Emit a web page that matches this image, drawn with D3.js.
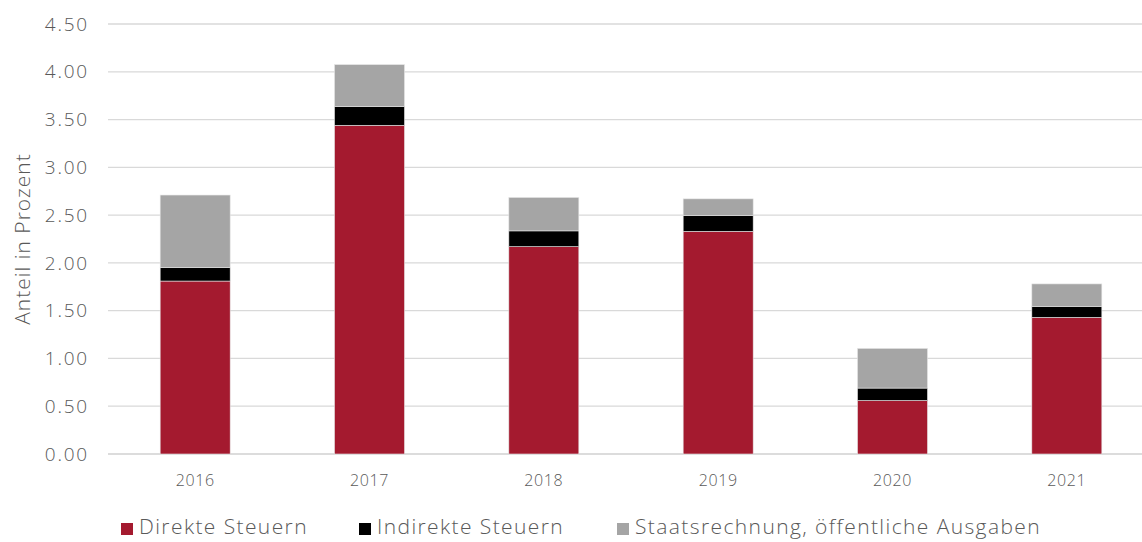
<!DOCTYPE html>
<html><head><meta charset="utf-8">
<script src="https://cdn.jsdelivr.net/npm/d3@7"></script>
<style>
body{margin:0;background:#fff;}
text{font-family:"Open Sans",sans-serif;fill:#595959;font-weight:300;}
</style></head>
<body><svg id="c" width="1142" height="542"></svg>
<script>
const years = ["2016","2017","2018","2019","2020","2021"];
const direkte = [1.81, 3.44, 2.17, 2.33, 0.56, 1.43];
const indirekte = [0.14, 0.195, 0.165, 0.165, 0.13, 0.115];
const staats = [0.76, 0.44, 0.35, 0.175, 0.415, 0.235];
const seriesNames = ["Direkte Steuern","Indirekte Steuern","Staatsrechnung, öffentliche Ausgaben"];
const colors = ["#A41A2F","#000000","#A5A5A5"];
const yTicks = [0,0.5,1,1.5,2,2.5,3,3.5,4,4.5];

const svg = d3.select("#c");
const x = d3.scaleBand().domain(years).range([108,1154]);
const y = d3.scaleLinear().domain([0,4.5]).range([454,24]);

// gridlines
svg.append("g").selectAll("line").data(yTicks).join("line")
  .attr("x1",108).attr("x2",1142)
  .attr("y1",d=>y(d)).attr("y2",d=>y(d))
  .attr("stroke",d=>d===0?"#d0d0d0":"#d9d9d9").attr("stroke-width",d=>d===0?1.5:1.3);

// y labels
svg.append("g").selectAll("text").data(yTicks).join("text")
  .attr("x",89).attr("y",d=>y(d)).attr("dy","0.35em")
  .attr("text-anchor","end").attr("font-size",19).attr("letter-spacing",1.8).text(d=>d.toFixed(2));

// y title
svg.append("text").attr("transform","translate(30,239) rotate(-90)")
  .attr("text-anchor","middle").attr("font-size",21).attr("letter-spacing",1).text("Anteil in Prozent");

const table = years.map((yr,i)=>({year:yr, d:direkte[i], i:indirekte[i], s:staats[i]}));
const stack = d3.stack().keys(["d","i","s"])(table);
const bw = 70;
svg.append("g").selectAll("g").data(stack).join("g")
  .attr("fill",(d,k)=>colors[k])
  .selectAll("rect").data(d=>d).join("rect")
  .attr("x",d=>x(d.data.year)+x.bandwidth()/2-bw/2)
  .attr("width",bw)
  .attr("y",d=>y(d[1]))
  .attr("height",d=>y(d[0])-y(d[1]))
  .attr("stroke","#e6e6e6").attr("stroke-width",0.6);

// x labels
svg.append("g").selectAll("text").data(years).join("text")
  .attr("x",d=>x(d)+x.bandwidth()/2).attr("y",480).attr("dy","0.35em")
  .attr("text-anchor","middle").attr("font-size",16).attr("letter-spacing",0.6).text(d=>d);

// legend
const legX = [121,359,617];
const lg = svg.append("g").selectAll("g").data(seriesNames).join("g")
  .attr("transform",(d,k)=>`translate(${legX[k]},0)`);
lg.append("rect").attr("x",0).attr("y",523).attr("width",12).attr("height",12).attr("fill",(d,k)=>colors[k]);
lg.append("text").attr("x",18).attr("y",534).attr("font-size",21).attr("letter-spacing",1.4).text(d=>d);
</script></body></html>
